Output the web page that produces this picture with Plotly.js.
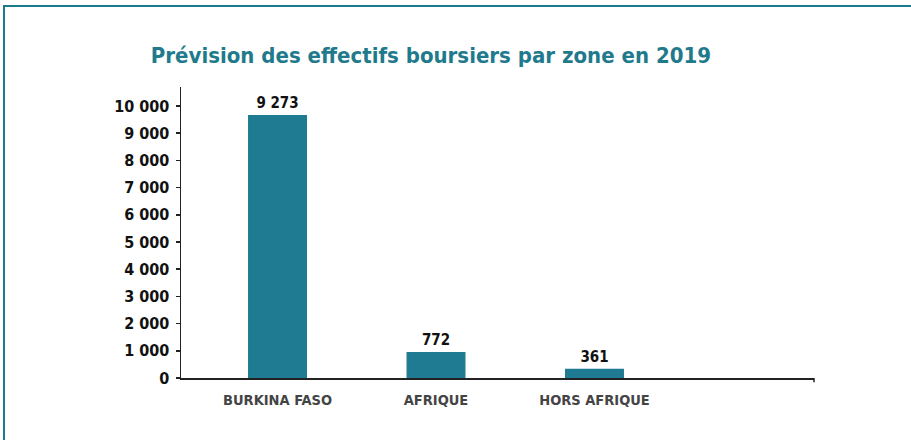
<!DOCTYPE html>
<html>
<head>
<meta charset="utf-8">
<script src="https://cdn.plot.ly/plotly-3.0.1.min.js"></script>
<style>
  html, body { margin: 0; padding: 0; background: #ffffff; }
  #frame { position: absolute; left: 3px; top: 5px; width: 908px; height: 435px;
           border-top: 2px solid #1f7a8c; border-left: 2px solid #1f7a8c; box-sizing: border-box; }
  #chart { position: absolute; left: 0; top: 0; width: 911px; height: 440px; }
</style>
</head>
<body>
<div id="frame"></div>
<div id="chart"></div>
<script>
// Data
const categories = ['BURKINA FASO', 'AFRIQUE', 'HORS AFRIQUE'];
const labelValues = [9273, 772, 361];          // printed values
const barHeights = [9670, 955, 340];           // bar heights as drawn in the picture
const yTickValues = [0, 1000, 2000, 3000, 4000, 5000, 6000, 7000, 8000, 9000, 10000];
const yTickLabels = ['0', '1 000', '2 000', '3 000', '4 000', '5 000', '6 000', '7 000', '8 000', '9 000', '10 000'];
const titleText = 'Prévision des effectifs boursiers par zone en 2019';

const FONT = '"DejaVu Sans Condensed", "Liberation Sans Narrow", "DejaVu Sans", sans-serif';
const fmt = v => String(v).replace(/\B(?=(\d{3})+(?!\d))/g, ' ');

const trace = {
  type: 'bar',
  x: categories.map((c, i) => i),
  y: barHeights,
  text: labelValues.map(fmt),
  textposition: 'outside',
  textfont: { family: FONT, size: 15, color: '#111111', weight: 'bold' },
  cliponaxis: false,
  width: 0.372,
  marker: { color: '#1e7b91' },
  hoverinfo: 'skip'
};

const layout = {
  width: 911, height: 440,
  margin: { l: 181, r: 97, t: 87, b: 62 },
  paper_bgcolor: 'rgba(0,0,0,0)',
  plot_bgcolor: 'rgba(0,0,0,0)',
  showlegend: false,
  title: {
    text: titleText,
    font: { family: FONT, size: 22, color: '#1f7a8c', weight: 'bold' },
    x: 0.473, xref: 'container', xanchor: 'center',
    y: 0.875, yref: 'container', yanchor: 'middle'
  },
  xaxis: {
    range: [-0.609, 3.385],
    tickvals: categories.map((c, i) => i),
    ticktext: categories,
    tickfont: { family: FONT, size: 14.5, color: '#444444', weight: 'bold' },
    ticklabelstandoff: 8,
    showline: true, linecolor: '#222222', linewidth: 2,
    ticks: '', showgrid: false, zeroline: false, fixedrange: true
  },
  yaxis: {
    range: [0, 10700],
    tickvals: yTickValues,
    ticktext: yTickLabels,
    tickfont: { family: FONT, size: 16, color: '#111111', weight: 'bold' },
    ticklabelstandoff: 3,
    ticks: 'outside', ticklen: 4, tickwidth: 1.5, tickcolor: '#222222',
    showline: true, linecolor: '#222222', linewidth: 1.5,
    showgrid: false, zeroline: false, fixedrange: true
  },
  shapes: [
    { type: 'line', xref: 'paper', yref: 'paper', x0: 1, x1: 1, y0: 0, y1: -0.015,
      line: { color: '#222222', width: 1.5 } }
  ]
};

Plotly.newPlot('chart', [trace], layout, { staticPlot: true, displayModeBar: false });
</script>
</body>
</html>
